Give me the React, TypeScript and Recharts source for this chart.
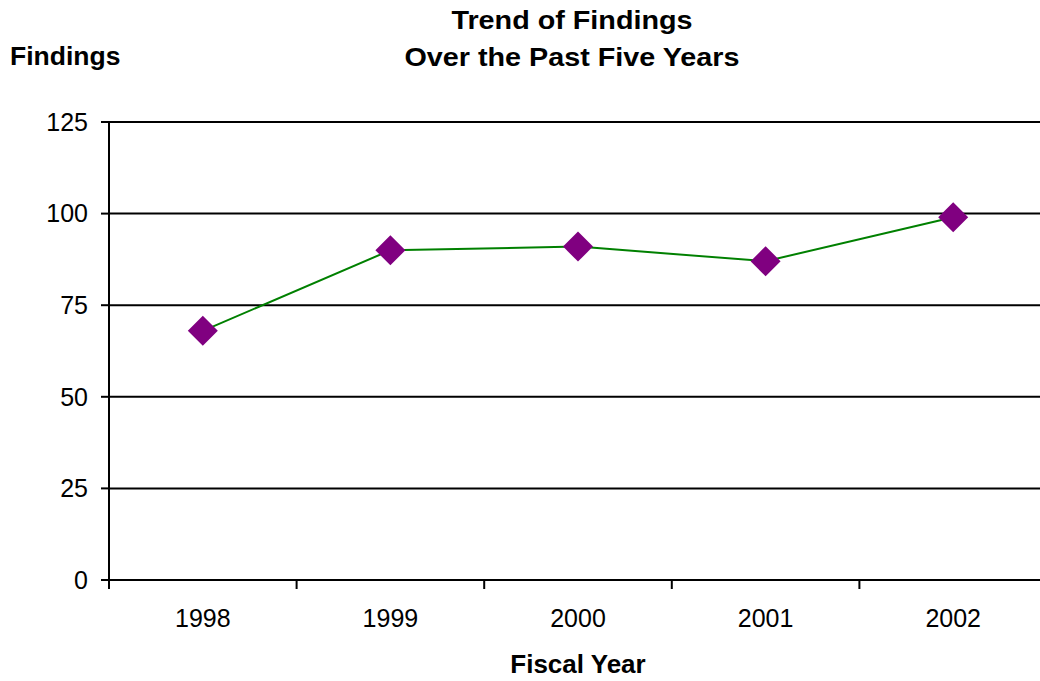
import React from "react";
import { LineChart, Line, XAxis, YAxis, CartesianGrid } from "recharts";

const years = ["1998", "1999", "2000", "2001", "2002"];
const findings = [68, 90, 91, 87, 99];
const yTicks = [0, 25, 50, 75, 100, 125];

// Each year sits in the middle of its slot; slot boundaries get the tick marks.
const data = years.map((year, i) => ({ slot: i + 0.5, year, findings: findings[i] }));
const xTicks: number[] = [];
for (let i = 0; i <= years.length; i++) {
  xTicks.push(i);
  if (i < years.length) xTicks.push(i + 0.5);
}

const FONT = "'Liberation Sans', Arial, Helvetica, sans-serif";

const Diamond = (props: any) => {
  const { cx, cy } = props;
  if (cx == null || cy == null) return null;
  const r = 15;
  return (
    <polygon
      points={`${cx},${cy - r} ${cx + r},${cy} ${cx},${cy + r} ${cx - r},${cy}`}
      fill="#800080"
      stroke="none"
    />
  );
};

const YearTick = (props: any) => {
  const { x, y, payload } = props;
  const v = payload.value as number;
  if (Number.isInteger(v)) {
    return <line x1={x} x2={x} y1={y - 9} y2={y} stroke="#000" strokeWidth={2} />;
  }
  const label = years[Math.floor(v)];
  return (
    <text x={x} y={y + 38} textAnchor="middle" fontFamily={FONT} fontSize={25} fill="#000">
      {label}
    </text>
  );
};

export default function App() {
  return (
    <div
      style={{
        position: "absolute",
        left: 0,
        top: 0,
        width: 1040,
        height: 681,
        overflow: "hidden",
        background: "#fff",
      }}
    >
      <LineChart
        width={1060}
        height={681}
        data={data}
        margin={{ top: 122, right: 13, bottom: 0, left: 0 }}
      >
        <CartesianGrid vertical={false} stroke="#000" strokeWidth={2} />
        <XAxis
          dataKey="slot"
          type="number"
          domain={[0, years.length]}
          ticks={xTicks}
          interval={0}
          height={101}
          tickSize={9}
          tickMargin={0}
          tickLine={false}
          axisLine={{ stroke: "#000", strokeWidth: 2 }}
          tick={<YearTick />}
        />
        <YAxis
          type="number"
          domain={[0, 125]}
          ticks={yTicks}
          interval={0}
          width={109}
          tickSize={8}
          tickMargin={13}
          axisLine={{ stroke: "#000", strokeWidth: 2 }}
          tickLine={{ stroke: "#000", strokeWidth: 2 }}
          tick={{ fill: "#000", fontSize: 25, fontFamily: FONT }}
        />
        <Line
          type="linear"
          dataKey="findings"
          stroke="#008000"
          strokeWidth={2}
          dot={<Diamond />}
          activeDot={false}
          isAnimationActive={false}
        />
      </LineChart>
      <svg
        width={1040}
        height={681}
        style={{ position: "absolute", left: 0, top: 0, pointerEvents: "none" }}
      >
        <g fontFamily={FONT} fontWeight="bold" fill="#000">
          <text transform="translate(572,29) scale(1.15,1)" textAnchor="middle" fontSize={25}>
            Trend of Findings
          </text>
          <text transform="translate(572,66) scale(1.15,1)" textAnchor="middle" fontSize={25}>
            Over the Past Five Years
          </text>
          <text x={10} y={65} fontSize={26.5}>
            Findings
          </text>
          <text x={578} y={673} textAnchor="middle" fontSize={26}>
            Fiscal Year
          </text>
        </g>
      </svg>
    </div>
  );
}
